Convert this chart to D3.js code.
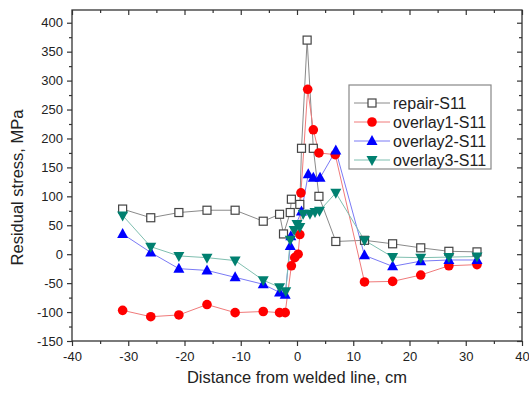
<!DOCTYPE html>
<html><head><meta charset="utf-8">
<script src="https://cdn.jsdelivr.net/npm/d3@7"></script>
<style>body{margin:0;background:#fff}svg{display:block}text{font-family:"Liberation Sans",Arial,sans-serif}</style>
</head><body>
<svg id="c" width="529" height="394"></svg>
<script>
const xTicks = [-40,-30,-20,-10,0,10,20,30,40];
const yTicks = [-150,-100,-50,0,50,100,150,200,250,300,350,400];

const repairX = [-31,-26,-21,-16,-11,-6,-3.1,-2.4,-1.2,-1,0.5,0.8,1.8,2.9,3.9,6.9,12,17,22,27,32];
const repairY = [78,63,72,76,76,57,69,35,72,95,86,183,370,183,100,22,24,18,11,5,4];

const ov1X = [-31,-26,-21,-16,-11,-6,-3.1,-2.1,-1,-0.4,0.2,0.5,0.7,1.9,2.9,3.9,6.8,12,17,22,27,32];
const ov1Y = [-97,-108,-105,-87,-101,-99,-101,-101,-20,-6,0,34,106,285,215,175,172,-48,-47,-36,-20,-18];

const ov2X = [-31,-26,-21,-16,-11,-6,-3.1,-2.1,-1.2,-1.1,0.8,2,2.9,4.1,6.9,12,17,22,27,32];
const ov2Y = [35,3,-25,-28,-40,-52,-66,-70,14,31,74,138,132,132,179,-2,-21,-12,-10,-10];

const ov3X = [-31,-26,-21,-16,-11,-6,-3.1,-2,-1.2,-0.5,0,0.5,1.1,2.3,3.2,4,6.9,12,17,22,27,32];
const ov3Y = [67,13,-3,-6,-11,-45,-57,-64,25,42,52,47,70,70,73,75,106,24,-5,-6,-5,-4];

const seriesNames = ["repair-S11","overlay1-S11","overlay2-S11","overlay3-S11"];

const svg = d3.select("#c");
const L=72,R=522,T=10,B=341;
const x = d3.scaleLinear().domain([-40,40]).range([L,R]);
const y = d3.scaleLinear().domain([-150,422]).range([B,T]);
const axisCol = "#333";

// frame
svg.append("rect").attr("x",L).attr("y",T).attr("width",R-L).attr("height",B-T)
  .attr("fill","none").attr("stroke",axisCol).attr("stroke-width",1.3);

const fmt = d => String(d).replace("-", "-");
// bottom axis
const xa = svg.append("g").attr("transform",`translate(0,${B})`)
  .call(d3.axisBottom(x).tickValues(xTicks).tickSize(5).tickFormat(fmt));
const xm = svg.append("g").attr("transform",`translate(0,${B})`)
  .call(d3.axisBottom(x).tickValues(d3.range(-35,40,10)).tickSize(3).tickFormat(""));
// top mirror
const xt = svg.append("g").attr("transform",`translate(0,${T})`)
  .call(d3.axisBottom(x).tickValues(xTicks).tickSize(5).tickFormat(""));
const xtm = svg.append("g").attr("transform",`translate(0,${T})`)
  .call(d3.axisBottom(x).tickValues(d3.range(-35,40,10)).tickSize(3).tickFormat(""));
// left axis
const ya = svg.append("g").attr("transform",`translate(${L},0)`)
  .call(d3.axisLeft(y).tickValues(yTicks).tickSize(5).tickFormat(fmt));
const ym = svg.append("g").attr("transform",`translate(${L},0)`)
  .call(d3.axisLeft(y).tickValues(d3.range(-125,425,50)).tickSize(3).tickFormat(""));
// right mirror
const yr = svg.append("g").attr("transform",`translate(${R},0)`)
  .call(d3.axisLeft(y).tickValues(yTicks).tickSize(5).tickFormat(""));
const yrm = svg.append("g").attr("transform",`translate(${R},0)`)
  .call(d3.axisLeft(y).tickValues(d3.range(-125,425,50)).tickSize(3).tickFormat(""));

[xa,xm,xt,xtm,ya,ym,yr,yrm].forEach(g=>{
  g.select(".domain").remove();
  g.selectAll("line").attr("stroke",axisCol).attr("stroke-width",1.2);
  g.selectAll("text").attr("fill","#222").style("font-size","13px");
});
xa.selectAll("text").attr("dy","0.95em");
ya.selectAll("text").attr("dx","-1px");

svg.append("text").attr("x",(L+R)/2).attr("y",383).attr("text-anchor","middle")
  .style("font-size","16.5px").attr("fill","#222").text("Distance from welded line, cm");
svg.append("text").attr("transform",`translate(23,${(T+B)/2+12}) rotate(-90)`).attr("text-anchor","middle")
  .style("font-size","16.5px").attr("fill","#222").text("Residual stress, MPa");

const series = [
  {name:seriesNames[0], xs:repairX, ys:repairY, line:"#8a8a8a", fill:"#fff", stroke:"#444", shape:"square"},
  {name:seriesNames[1], xs:ov1X, ys:ov1Y, line:"#f07a7a", fill:"#ff0000", stroke:"#ff0000", shape:"circle"},
  {name:seriesNames[2], xs:ov2X, ys:ov2Y, line:"#7a7af5", fill:"#0000ff", stroke:"#0000ff", shape:"up"},
  {name:seriesNames[3], xs:ov3X, ys:ov3Y, line:"#7fbfb0", fill:"#008070", stroke:"#008070", shape:"down"}
];

function marker(g, s, cx, cy){
  if(s.shape==="square"){
    g.append("rect").attr("x",cx-4).attr("y",cy-4).attr("width",8).attr("height",8)
      .attr("fill",s.fill).attr("stroke",s.stroke).attr("stroke-width",1.2);
  } else if(s.shape==="circle"){
    g.append("circle").attr("cx",cx).attr("cy",cy).attr("r",4.8).attr("fill",s.fill);
  } else if(s.shape==="up"){
    g.append("path").attr("d",`M${cx},${cy-6}L${cx+5.5},${cy+4}L${cx-5.5},${cy+4}Z`).attr("fill",s.fill);
  } else {
    g.append("path").attr("d",`M${cx},${cy+6}L${cx+5.5},${cy-4}L${cx-5.5},${cy-4}Z`).attr("fill",s.fill);
  }
}

const line = d3.line().x(d=>x(d[0])).y(d=>y(d[1]));
series.forEach(s=>{
  const pts = s.xs.map((v,i)=>[v,s.ys[i]]);
  svg.append("path").attr("d",line(pts)).attr("fill","none").attr("stroke",s.line).attr("stroke-width",1);
});
series.forEach(s=>{
  const g = svg.append("g");
  s.xs.forEach((v,i)=>marker(g,s,x(v),y(s.ys[i])));
});

// legend
const lg = svg.append("g");
lg.append("rect").attr("x",349).attr("y",85).attr("width",142).attr("height",84)
  .attr("fill","#fff").attr("stroke","#888").attr("stroke-width",1.2);
series.forEach((s,i)=>{
  const yy = 103 + i*19;
  lg.append("line").attr("x1",354).attr("x2",390).attr("y1",yy).attr("y2",yy).attr("stroke",s.line).attr("stroke-width",1);
  marker(lg,s,372,yy);
  lg.append("text").attr("x",393).attr("y",yy+5.5).style("font-size","16px").attr("fill","#222").text(s.name);
});
</script>
</body></html>
